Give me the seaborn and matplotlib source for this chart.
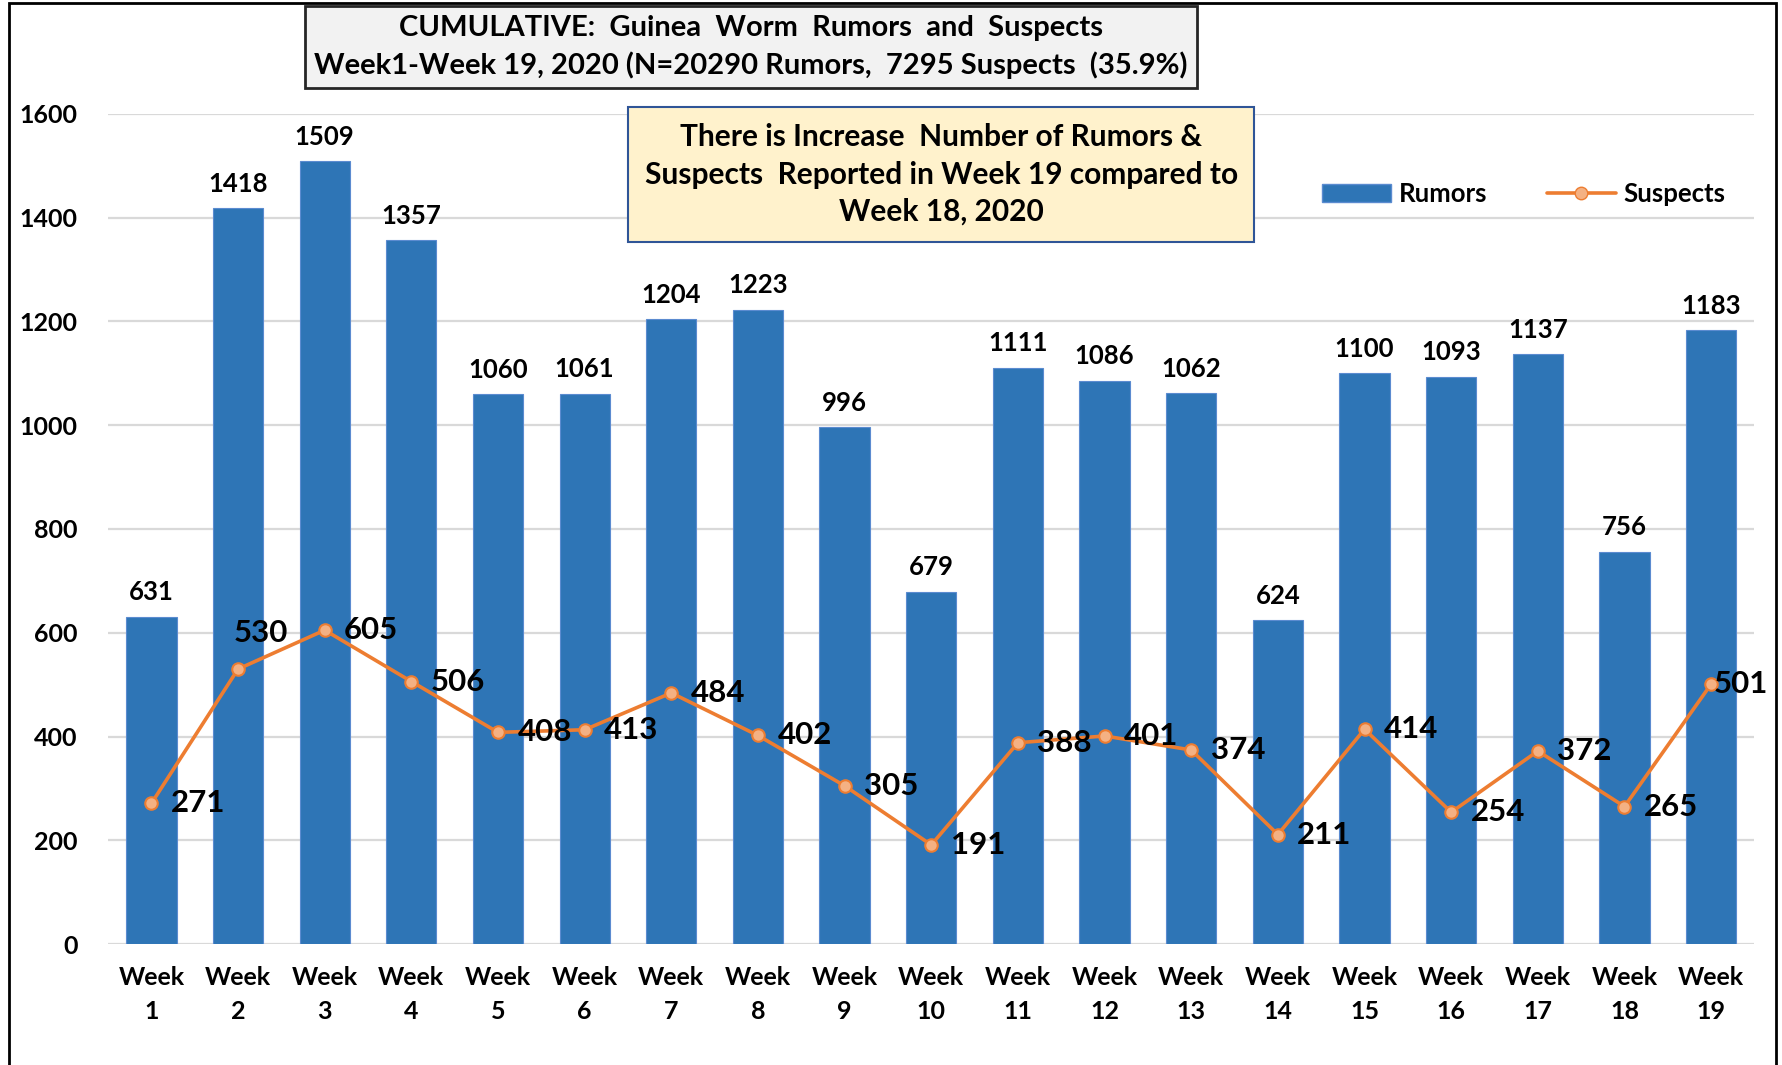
import pandas as pd
import matplotlib.pyplot as plt
import seaborn as sns
from matplotlib.patches import Patch, Rectangle
from matplotlib.lines import Line2D

weeks = ["Week\n%d" % i for i in range(1, 20)]
rumors = [631, 1418, 1509, 1357, 1060, 1061, 1204, 1223, 996, 679,
          1111, 1086, 1062, 624, 1100, 1093, 1137, 756, 1183]
suspects = [271, 530, 605, 506, 408, 413, 484, 402, 305, 191,
            388, 401, 374, 211, 414, 254, 372, 265, 501]
y_ticks = [0, 200, 400, 600, 800, 1000, 1200, 1400, 1600]

title = ("CUMULATIVE:  Guinea  Worm  Rumors  and  Suspects\n"
         "Week1-Week 19, 2020 (N=20290 Rumors,  7295 Suspects  (35.9%)")
note = ("There is Increase  Number of Rumors &\n"
        "Suspects  Reported in Week 19 compared to\n"
        "Week 18, 2020")

BLUE = "#2E75B6"
ORANGE = "#ED7D31"
FONT = "Lato"

sns.set_style("white")
plt.rcParams["font.family"] = [FONT, "DejaVu Sans"]
plt.rcParams["font.weight"] = "bold"
plt.rcParams["text.color"] = "black"
plt.rcParams["xtick.color"] = "black"
plt.rcParams["ytick.color"] = "black"

df = pd.DataFrame({"week": weeks, "rumors": rumors, "suspects": suspects})

fig = plt.figure(figsize=(17.83, 10.65), dpi=100)
ax = fig.add_axes([0.0606, 0.1136, 0.9234, 0.7794])

sns.barplot(data=df, x="week", y="rumors", color=BLUE, width=0.58,
            saturation=1, edgecolor="#5B8BD0", linewidth=0.8, ax=ax, zorder=2)
sns.pointplot(data=df, x="week", y="suspects", color=ORANGE, markers="o",
              markersize=9, linewidth=2.6, ax=ax, zorder=4)
for ln in ax.lines:
    ln.set_markerfacecolor("#F4B183")
    ln.set_markeredgecolor(ORANGE)
    ln.set_markeredgewidth(1.5)

# bar value labels
for i, v in enumerate(rumors):
    ax.annotate(str(v), (i, v), xytext=(0, 9), textcoords="offset points",
                ha="center", va="bottom", fontsize=18.5, fontweight="bold")

# line value labels
offsets = {1: (-3, 26), 18: (2, 0)}
for i, v in enumerate(suspects):
    dx, dy = offsets.get(i, (14, 0))
    ax.annotate(str(v), (i, v), xytext=(dx, dy), textcoords="offset points",
                ha="left", va="center", fontsize=22.5, fontweight="bold", zorder=5)

ax.set_xlim(-0.5, 18.5)
ax.set_ylim(0, 1600)
ax.set_yticks(y_ticks)
ax.set_xlabel("")
ax.set_ylabel("")
ax.grid(axis="y", color="#D9D9D9", linewidth=1.6, zorder=0)
ax.set_axisbelow(True)
for s in ax.spines.values():
    s.set_visible(False)
ax.tick_params(axis="both", length=0, labelsize=18, colors="black")
ax.tick_params(axis="x", pad=16)
ax.tick_params(axis="y", pad=22)
for lab in ax.get_xticklabels():
    lab.set_linespacing(1.55)
for lab in ax.get_xticklabels() + ax.get_yticklabels():
    lab.set_fontweight("bold")

handles = [Patch(facecolor=BLUE, edgecolor="#5B8BD0"),
           Line2D([], [], color=ORANGE, lw=2.6, marker="o", markersize=9,
                  markerfacecolor="#F4B183", markeredgecolor=ORANGE)]
ax.legend(handles, ["Rumors", "Suspects"], ncol=2, frameon=False,
          loc="center", bbox_to_anchor=(0.86, 0.904), fontsize=18.5,
          handlelength=2.7, columnspacing=2.3, handletextpad=0.3)

fig.text(0.421, 0.956, title, ha="center", va="center", fontsize=21,
         fontweight="bold", linespacing=1.45,
         bbox=dict(boxstyle="square,pad=0.32", facecolor="#F2F2F2",
                   edgecolor="#262626", linewidth=2))
fig.text(0.528, 0.836, note, ha="center", va="center", fontsize=21.5,
         fontweight="bold", linespacing=1.4,
         bbox=dict(boxstyle="square,pad=0.55", facecolor="#FFF2CC",
                   edgecolor="#2F5597", linewidth=1.5))

fig.patches.append(Rectangle((0.005, -0.05), 0.991, 1.047,
                             transform=fig.transFigure, fill=False,
                             edgecolor="black", linewidth=2))

plt.savefig("out.png", dpi=100)
